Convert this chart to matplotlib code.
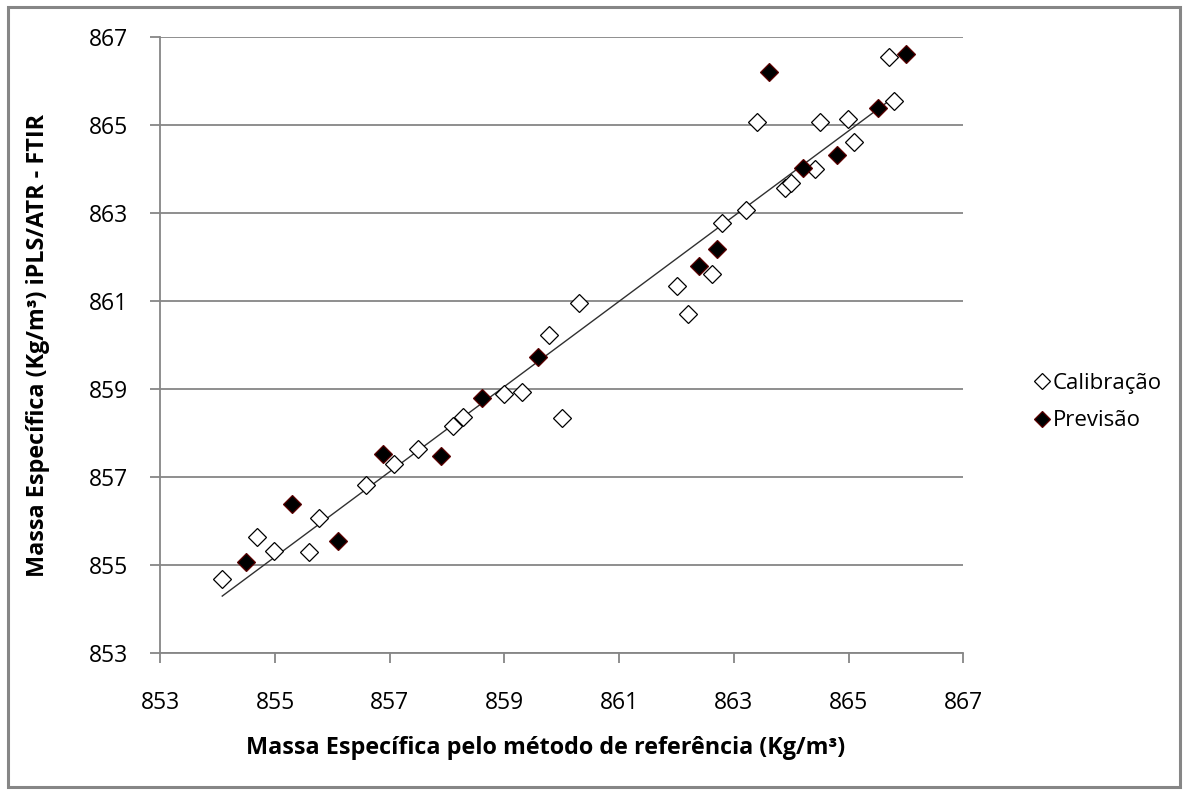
import matplotlib
matplotlib.use("Agg")
import matplotlib.pyplot as plt
from matplotlib.lines import Line2D
from matplotlib.patches import Rectangle

# ---- data ----
calib_x = [854.08, 854.69, 854.98, 855.59, 855.77, 856.59, 857.07, 857.49, 858.10, 858.28,
           858.99, 859.30, 859.78, 860.00, 860.30, 862.00, 862.20, 862.61, 862.80, 863.21,
           863.41, 863.89, 864.00, 864.41, 864.51, 864.99, 865.10, 865.71, 865.80]
calib_y = [854.68, 855.64, 855.33, 855.30, 856.08, 856.82, 857.30, 857.65, 858.17, 858.37,
           858.90, 858.93, 860.24, 858.35, 860.95, 861.34, 860.70, 861.61, 862.77, 863.08,
           865.06, 863.56, 863.68, 864.00, 865.06, 865.14, 864.62, 866.55, 865.55]
prev_x = [854.49, 855.30, 856.10, 856.89, 857.89, 858.61, 859.59, 862.40, 862.70, 863.61,
          864.20, 864.79, 865.51, 866.00]
prev_y = [855.08, 856.40, 855.55, 857.52, 857.48, 858.81, 859.72, 861.80, 862.18, 866.20,
          864.03, 864.33, 865.38, 866.61]
trend_x = [854.08, 865.84]
trend_y = [854.30, 865.68]
ticks = [853, 855, 857, 859, 861, 863, 865, 867]
labels = {"calib": "Calibração", "prev": "Previsão"}
xlabel = "Massa Específica pelo método de referência (Kg/m³)"
ylabel = "Massa Específica (Kg/m³) iPLS/ATR - FTIR"

plt.rcParams['font.family'] = ['Open Sans', 'DejaVu Sans']

W, H = 1189, 792
fig = plt.figure(figsize=(W / 100, H / 100), dpi=100)
ax = fig.add_axes([160.3 / W, 1 - 653.3 / H, (963.3 - 160.3) / W, (653.3 - 37) / H])

grid_c = '#868686'
ax.set_xlim(853, 867)
ax.set_ylim(853, 867)
ax.set_xticks(ticks)
ax.set_yticks(ticks)
ax.yaxis.grid(True, color=grid_c, linewidth=1.3)
ax.set_axisbelow(True)
for s in ['top', 'right']:
    ax.spines[s].set_visible(False)
for s in ['left', 'bottom']:
    ax.spines[s].set_color(grid_c)
    ax.spines[s].set_linewidth(1.3)
ax.tick_params(axis='both', colors=grid_c, length=7, width=1.3, labelsize=16.5,
               labelcolor='black')
ax.tick_params(axis='x', pad=20)
ax.tick_params(axis='y', pad=16)

ax.plot(trend_x, trend_y, color='#303030', linewidth=1.0, zorder=2)
ax.plot(calib_x, calib_y, linestyle='none', marker='D', markersize=9.5,
        markerfacecolor='white', markeredgecolor='black', markeredgewidth=0.9, zorder=3,
        label=labels["calib"])
ax.plot(prev_x, prev_y, linestyle='none', marker='D', markersize=9.5,
        markerfacecolor='black', markeredgecolor='#5a0000', markeredgewidth=0.9, zorder=4,
        label=labels["prev"])

ax.set_xlabel(xlabel, fontsize=16.8, fontweight='bold', labelpad=15)
ax.xaxis.label.set_x((546 - 160.3) / 803)
ax.set_ylabel(ylabel, fontsize=16.8, fontweight='bold', labelpad=28)

handles = [
    Line2D([], [], linestyle='none', marker='D', markersize=8, markerfacecolor='white',
           markeredgecolor='black', markeredgewidth=0.9),
    Line2D([], [], linestyle='none', marker='D', markersize=8, markerfacecolor='black',
           markeredgecolor='#5a0000', markeredgewidth=0.9),
]
fig.legend(handles, [labels["calib"], labels["prev"]], loc='center left',
           bbox_to_anchor=(1024 / W, 1 - 402 / H), frameon=False, fontsize=16,
           handlelength=0.6, handletextpad=0.2, labelspacing=0.75, borderpad=0)

fig.patches.append(Rectangle((8 / W, 5 / H), (1180 - 8) / W, (785 - 5) / H,
                             transform=fig.transFigure, fill=False,
                             edgecolor=grid_c, linewidth=2.2))

fig.savefig('out.png', dpi=100)
